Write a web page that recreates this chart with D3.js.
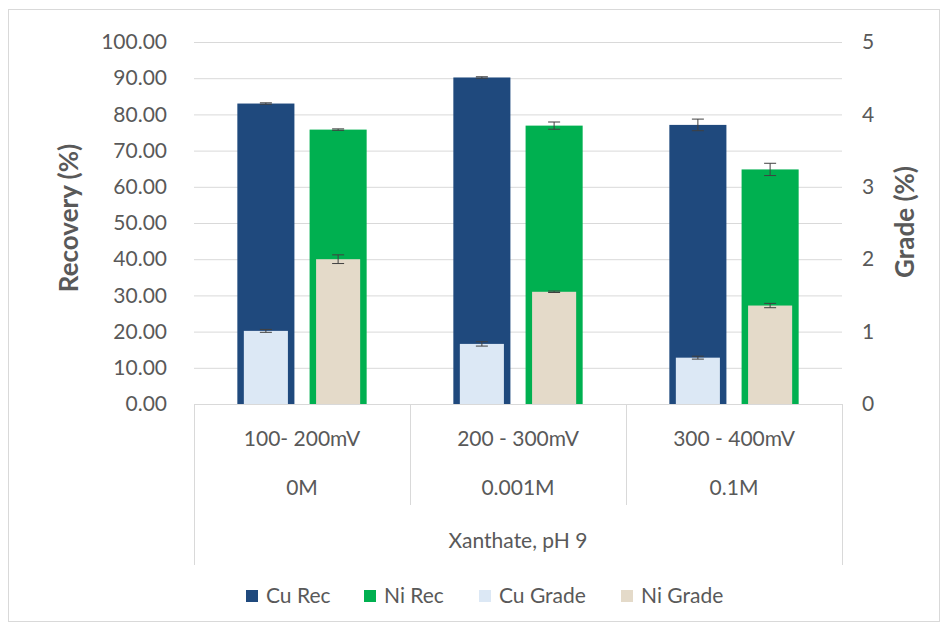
<!DOCTYPE html>
<html>
<head>
<meta charset="utf-8">
<script src="https://cdn.jsdelivr.net/npm/d3@7"></script>
<style>
  body { margin: 0; background: #fff; }
  text { font-family: Lato, "Liberation Sans", sans-serif; fill: #595959; }
</style>
</head>
<body>
<div id="chart"></div>
<script>
// categories (two level axis + group label)
var potentials = ["100- 200mV", "200 - 300mV", "300 - 400mV"];
var xanthate = ["0M", "0.001M", "0.1M"];
var groupLabel = "Xanthate, pH 9";

// recovery (%) - left axis
var cuRec = [83.0, 90.2, 77.1];
var cuRecErr = [0.2, 0.2, 1.6];
var niRec = [75.8, 76.9, 64.8];
var niRecErr = [0.2, 1.0, 1.7];

// grade (%) - right axis
var cuGrade = [1.01, 0.83, 0.64];
var cuGradeErr = [0.02, 0.03, 0.02];
var niGrade = [2.0, 1.55, 1.36];
var niGradeErr = [0.06, 0.01, 0.03];

var recTicks = [0, 10, 20, 30, 40, 50, 60, 70, 80, 90, 100];
var gradeTicks = [0, 1, 2, 3, 4, 5];

var W = 947, H = 630;
var plot = {left: 194, right: 842, top: 42, bottom: 404};
var fontSize = "21px";

var colors = {cuRec: "#1f497d", niRec: "#00b050", cuGrade: "#dce8f5", niGrade: "#e4dac9"};

var svg = d3.select("#chart").append("svg")
    .attr("width", W)
    .attr("height", H);

// chart border
svg.append("rect")
    .attr("x", 8.5).attr("y", 9.5)
    .attr("width", 931).attr("height", 612)
    .attr("fill", "#fff")
    .attr("stroke", "#d9d9d9");

var x0 = d3.scaleBand()
    .domain(potentials)
    .range([plot.left, plot.right])
    .padding(0);

var x1 = d3.scaleBand()
    .domain(["Cu", "Ni"])
    .range([0, x0.bandwidth()])
    .paddingInner(0.21)
    .paddingOuter(0.6);

var yRec = d3.scaleLinear().domain([0, 100]).range([plot.bottom, plot.top]);
var yGrade = d3.scaleLinear().domain([0, 5]).range([plot.bottom, plot.top]);

// gridlines
svg.append("g")
    .attr("transform", "translate(" + plot.left + ",0)")
    .call(d3.axisLeft(yRec).tickValues(recTicks).tickSize(-(plot.right - plot.left)).tickFormat(""))
    .call(g => g.select(".domain").remove())
    .call(g => g.selectAll("line").attr("stroke", "#d9d9d9"));

// left axis labels
svg.append("g")
    .attr("transform", "translate(" + plot.left + ",0)")
    .call(d3.axisLeft(yRec).tickValues(recTicks).tickSize(0).tickPadding(27).tickFormat(d3.format(".2f")))
    .call(g => g.select(".domain").remove())
    .selectAll("text")
    .style("font-size", fontSize)
    .style("fill", "#595959");

// right axis labels
svg.append("g")
    .attr("transform", "translate(" + plot.right + ",0)")
    .call(d3.axisRight(yGrade).tickValues(gradeTicks).tickSize(0).tickPadding(20).tickFormat(d3.format("d")))
    .call(g => g.select(".domain").remove())
    .selectAll("text")
    .style("font-size", fontSize)
    .style("fill", "#595959");

// axis titles
svg.append("text")
    .attr("transform", "translate(78,218) rotate(-90)")
    .attr("text-anchor", "middle")
    .style("font-size", "26px")
    .style("font-weight", "bold")
    .text("Recovery (%)");

svg.append("text")
    .attr("transform", "translate(914,222) rotate(-90)")
    .attr("text-anchor", "middle")
    .style("font-size", "26px")
    .style("font-weight", "bold")
    .text("Grade (%)");

///////////////////////// bars /////////////////////////
var rows = potentials.map(function (p, i) {
    return {cat: p, cuRec: cuRec[i], cuRecErr: cuRecErr[i], niRec: niRec[i], niRecErr: niRecErr[i],
        cuGrade: cuGrade[i], cuGradeErr: cuGradeErr[i], niGrade: niGrade[i], niGradeErr: niGradeErr[i]};
});

var series = [
    {key: "cuRec", err: "cuRecErr", band: "Cu", scale: yRec, color: colors.cuRec, inset: 0},
    {key: "niRec", err: "niRecErr", band: "Ni", scale: yRec, color: colors.niRec, inset: 0},
    {key: "cuGrade", err: "cuGradeErr", band: "Cu", scale: yGrade, color: colors.cuGrade, inset: 6.5},
    {key: "niGrade", err: "niGradeErr", band: "Ni", scale: yGrade, color: colors.niGrade, inset: 6.5}
];

series.forEach(function (s) {
    var g = svg.append("g").attr("class", "series-" + s.key);
    g.selectAll("rect")
        .data(rows)
        .enter().append("rect")
        .attr("x", d => x0(d.cat) + x1(s.band) + s.inset)
        .attr("width", x1.bandwidth() - 2 * s.inset)
        .attr("y", d => s.scale(d[s.key]))
        .attr("height", d => s.scale(0) - s.scale(d[s.key]))
        .attr("fill", s.color);

    // error bars
    var cx = d => x0(d.cat) + x1(s.band) + x1.bandwidth() / 2;
    var eb = g.selectAll(".err")
        .data(rows)
        .enter().append("g")
        .attr("class", "err")
        .attr("stroke", "#404040")
        .attr("stroke-width", 1);
    eb.append("line")
        .attr("x1", cx).attr("x2", cx)
        .attr("y1", d => s.scale(d[s.key] + d[s.err]))
        .attr("y2", d => s.scale(d[s.key] - d[s.err]));
    eb.append("line")
        .attr("x1", d => cx(d) - 6).attr("x2", d => cx(d) + 6)
        .attr("y1", d => s.scale(d[s.key] + d[s.err]))
        .attr("y2", d => s.scale(d[s.key] + d[s.err]));
    eb.append("line")
        .attr("x1", d => cx(d) - 6).attr("x2", d => cx(d) + 6)
        .attr("y1", d => s.scale(d[s.key] - d[s.err]))
        .attr("y2", d => s.scale(d[s.key] - d[s.err]));
});

///////////////////////// multi-level category axis /////////////////////////
var axisG = svg.append("g").attr("class", "cat-axis");

axisG.append("line")
    .attr("x1", plot.left).attr("x2", plot.right)
    .attr("y1", plot.bottom + 0.5).attr("y2", plot.bottom + 0.5)
    .attr("stroke", "#d9d9d9");

// inner separators
axisG.selectAll(".sep")
    .data(potentials.slice(1))
    .enter().append("line")
    .attr("x1", d => Math.round(x0(d)) + 0.5).attr("x2", d => Math.round(x0(d)) + 0.5)
    .attr("y1", plot.bottom).attr("y2", 505)
    .attr("stroke", "#d9d9d9");

// outer separators
axisG.selectAll(".edge")
    .data([plot.left, plot.right])
    .enter().append("line")
    .attr("x1", d => d + 0.5).attr("x2", d => d + 0.5)
    .attr("y1", plot.bottom).attr("y2", 565)
    .attr("stroke", "#d9d9d9");

axisG.selectAll(".lvl1")
    .data(potentials)
    .enter().append("text")
    .attr("x", d => x0(d) + x0.bandwidth() / 2)
    .attr("y", 446)
    .attr("text-anchor", "middle")
    .style("font-size", fontSize)
    .text(d => d);

axisG.selectAll(".lvl2")
    .data(xanthate)
    .enter().append("text")
    .attr("x", (d, i) => x0(potentials[i]) + x0.bandwidth() / 2)
    .attr("y", 495)
    .attr("text-anchor", "middle")
    .style("font-size", fontSize)
    .text(d => d);

axisG.append("text")
    .attr("x", (plot.left + plot.right) / 2)
    .attr("y", 548)
    .attr("text-anchor", "middle")
    .style("font-size", fontSize)
    .text(groupLabel);

///////////////////////// legend /////////////////////////
var legendData = [
    {label: "Cu Rec", color: colors.cuRec, x: 246},
    {label: "Ni Rec", color: colors.niRec, x: 364},
    {label: "Cu Grade", color: colors.cuGrade, x: 479},
    {label: "Ni Grade", color: colors.niGrade, x: 621}
];

var legend = svg.selectAll(".legendItem")
    .data(legendData)
    .enter().append("g")
    .attr("class", "legendItem")
    .attr("transform", d => "translate(" + d.x + ",590)");

legend.append("rect")
    .attr("width", 12)
    .attr("height", 12)
    .attr("fill", d => d.color);

legend.append("text")
    .attr("x", 20)
    .attr("y", 6)
    .attr("dy", ".35em")
    .style("font-size", fontSize)
    .text(d => d.label);
</script>
</body>
</html>
